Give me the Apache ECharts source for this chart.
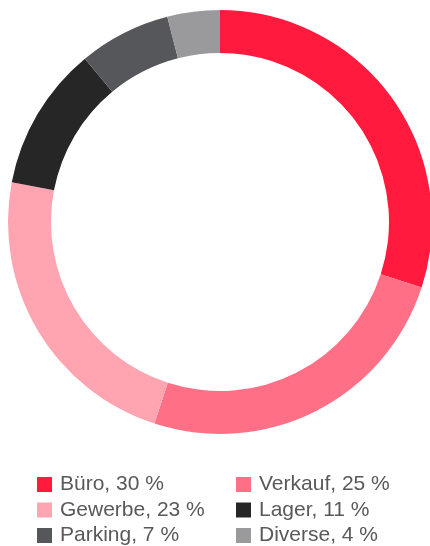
<!DOCTYPE html>
<html>
<head>
<meta charset="utf-8">
<script src="https://cdn.jsdelivr.net/npm/echarts@6/dist/echarts.min.js"></script>
<style>
  html, body { margin: 0; padding: 0; background: #fff; }
  #main { width: 430px; height: 546px; }
</style>
</head>
<body>
<div id="main"></div>
<script>
// Flächenanteile
var categories = ['Büro', 'Verkauf', 'Gewerbe', 'Lager', 'Parking', 'Diverse'];
var values = [30, 25, 23, 11, 7, 4];
var colors = ['#ff1a3e', '#ff7087', '#ffa4b1', '#262626', '#56575b', '#9a9a9c'];

var leftCol = [categories[0], categories[2], categories[4]];
var rightCol = [categories[1], categories[3], categories[5]];

var chart = echarts.init(document.getElementById('main'));

function legendFor(names, left) {
  return {
    orient: 'vertical',
    left: left,
    top: 474,
    width: 190,
    height: 120,
    padding: 0,
    icon: 'rect',
    itemWidth: 15,
    itemHeight: 15,
    itemGap: 4.5,
    selectedMode: false,
    data: names,
    formatter: function (name) {
      return name + ', ' + values[categories.indexOf(name)] + ' %';
    },
    textStyle: {
      fontFamily: 'Liberation Sans',
      fontSize: 21,
      lineHeight: 21,
      color: '#595959',
      padding: [0, 0, 0, 3]
    }
  };
}

chart.setOption({
  animation: false,
  color: colors,
  legend: [legendFor(leftCol, 37), legendFor(rightCol, 236)],
  series: [{
    type: 'pie',
    center: [220, 222],
    radius: [169, 212],
    startAngle: 90,
    clockwise: true,
    label: { show: false },
    labelLine: { show: false },
    emphasis: { disabled: true },
    data: categories.map(function (c, i) {
      return { name: c, value: values[i] };
    })
  }]
});
</script>
</body>
</html>
